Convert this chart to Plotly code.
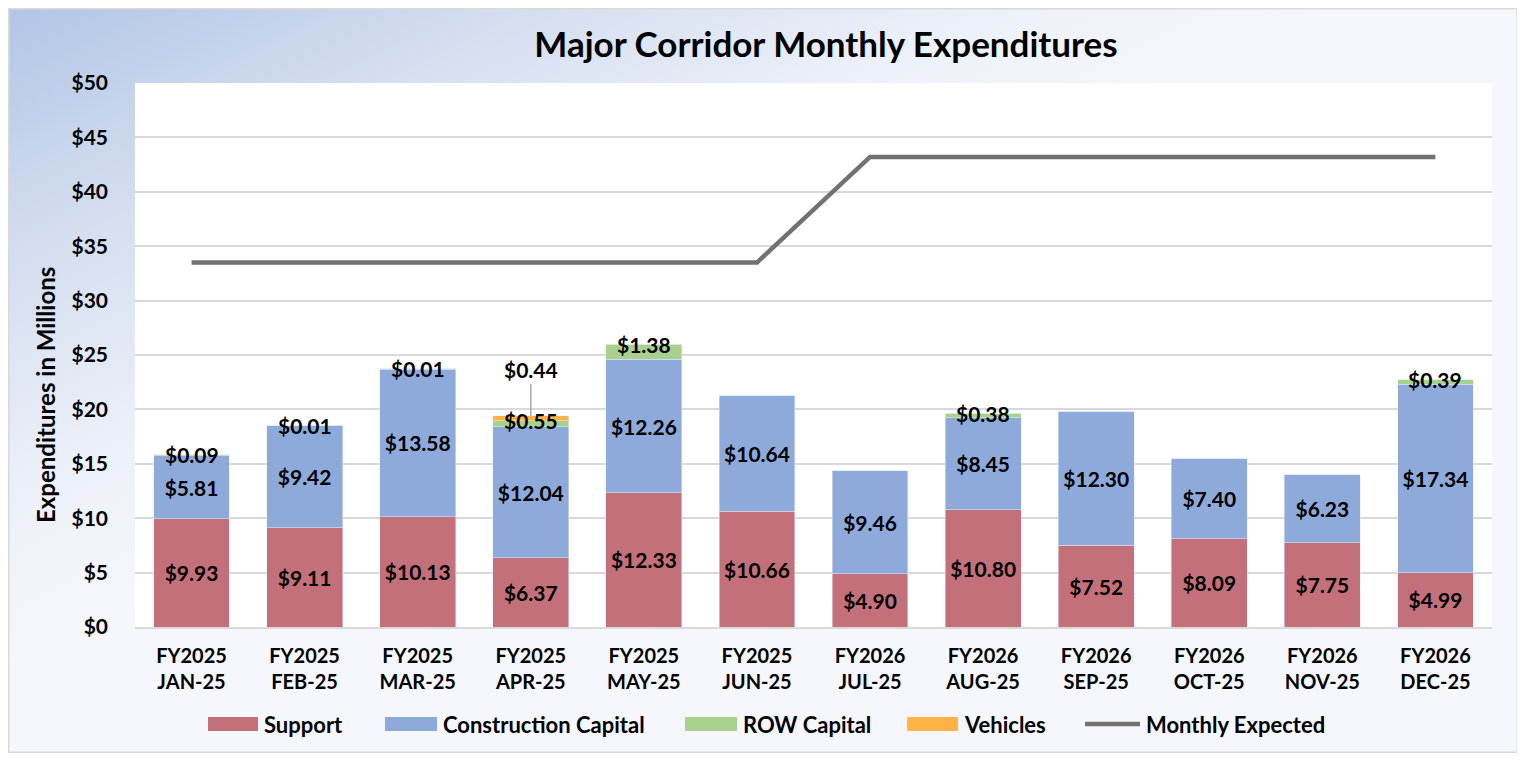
import base64
import plotly.graph_objects as go

# ---------------- data ----------------
fiscal_years = ["FY2025"] * 6 + ["FY2026"] * 6
months = ["JAN-25", "FEB-25", "MAR-25", "APR-25", "MAY-25", "JUN-25",
          "JUL-25", "AUG-25", "SEP-25", "OCT-25", "NOV-25", "DEC-25"]
support = [9.93, 9.11, 10.13, 6.37, 12.33, 10.66, 4.90, 10.80, 7.52, 8.09, 7.75, 4.99]
construction = [5.81, 9.42, 13.58, 12.04, 12.26, 10.64, 9.46, 8.45, 12.30, 7.40, 6.23, 17.34]
row_capital = [0.09, 0.01, 0.01, 0.55, 1.38, 0, 0, 0.38, 0, 0, 0, 0.39]
vehicles = [0, 0, 0, 0.44, 0, 0, 0, 0, 0, 0, 0, 0]
monthly_expected = [33.5, 33.5, 33.5, 33.5, 33.5, 33.5, 43.2, 43.2, 43.2, 43.2, 43.2, 43.2]
y_ticks = list(range(0, 51, 5))
series_names = ["Support", "Construction Capital", "ROW Capital", "Vehicles", "Monthly Expected"]

categories = [f"{fy}<br>{m}" for fy, m in zip(fiscal_years, months)]

# ---------------- style ----------------
# page has an 8px body margin; figure placed at page (8, 8)
OFF = 8
W, H = 1510, 745
PL, PR, PT, PB = 135, 1492, 83, 627          # plot area in page pixels
ML, MT = PL - OFF, PT - OFF
MR, MB = W - (PR - OFF), H - (PB - OFF)
PW, PH = PR - PL, PB - PT
FONT = "Lato"
C_SUP, C_CON, C_ROW, C_VEH, C_LINE = "#c4707a", "#8eaadb", "#a9d18e", "#ffb347", "#727272"
colors = [C_SUP, C_CON, C_ROW, C_VEH, C_LINE]


def px_x(x):  # page px -> paper
    return (x - PL) / PW


def px_y(y):
    return (PB - y) / PH


def money(v):
    return f"${v:.2f}"


def bfont(size):
    return dict(family=FONT, size=size, color="black", weight="bold")


fig = go.Figure()
bar_common = dict(textposition="inside", insidetextanchor="middle", textangle=0,
                  constraintext="none", textfont=bfont(21), hoverinfo="name+y")
fig.add_trace(go.Bar(name=series_names[0], x=categories, y=support, marker_color=C_SUP,
                     text=[money(v) for v in support], **bar_common))
fig.add_trace(go.Bar(name=series_names[1], x=categories, y=construction,
                     marker_color=C_CON, text=[money(v) for v in construction], **bar_common))
fig.add_trace(go.Bar(name=series_names[2], x=categories, y=row_capital, marker_color=C_ROW,
                     hoverinfo="name+y"))
fig.add_trace(go.Bar(name=series_names[3], x=categories, y=vehicles, marker_color=C_VEH,
                     hoverinfo="name+y"))
fig.add_trace(go.Scatter(name=series_names[4], x=categories, y=monthly_expected,
                         mode="lines", line=dict(color=C_LINE, width=4.5)))

# ROW / vehicle labels
for i, c in enumerate(categories):
    base = support[i] + construction[i]
    if row_capital[i] > 0:
        fig.add_annotation(x=c, y=base + row_capital[i], text=money(row_capital[i]),
                           showarrow=False, yanchor="middle", font=bfont(21))
    if vehicles[i] > 0:
        fig.add_annotation(x=c, y=base + row_capital[i] + vehicles[i], text=money(vehicles[i]),
                           showarrow=True, arrowhead=0, arrowwidth=1.5, arrowcolor="#a6a6a6",
                           ax=0, ay=-46, standoff=0, font=bfont(21))

# y-axis title
fig.add_annotation(xref="paper", yref="paper", x=px_x(45), y=px_y(395), xanchor="center",
                   yanchor="middle", text="Expenditures in Millions", textangle=-90,
                   showarrow=False, font=bfont(24))

# custom legend (swatches + real text)
leg_y = 724
sw_left = [208, 385, 685, 907, 1085]
sw_right = [258, 437, 737, 958, 1140]
for name, col, x0, x1 in zip(series_names, colors, sw_left, sw_right):
    if name == "Monthly Expected":
        fig.add_shape(type="line", xref="paper", yref="paper", x0=px_x(x0), x1=px_x(x1),
                      y0=px_y(leg_y), y1=px_y(leg_y), line=dict(color=col, width=4.5))
    else:
        fig.add_shape(type="rect", xref="paper", yref="paper", x0=px_x(x0), x1=px_x(x1),
                      y0=px_y(leg_y - 7), y1=px_y(leg_y + 7), fillcolor=col, line_width=0)
    fig.add_annotation(xref="paper", yref="paper", x=px_x(x1 + 4), y=px_y(leg_y),
                       xanchor="left", yanchor="middle", text=name, showarrow=False,
                       font=bfont(22))

# background (gradient panel + white plot area + border)
svg = f"""<svg xmlns='http://www.w3.org/2000/svg' width='{W}' height='{H}'>
<defs><linearGradient id='g' gradientUnits='userSpaceOnUse' x1='0' y1='0' x2='268' y2='537'>
<stop offset='0' stop-color='#b1c5e6'/><stop offset='0.4' stop-color='#d6dff0'/>
<stop offset='0.75' stop-color='#edf1f9'/><stop offset='1' stop-color='#f5f7fc'/>
</linearGradient></defs>
<rect x='0.75' y='0.75' width='{W-1.5}' height='{H-1.5}' fill='url(#g)' stroke='#d9d9d9' stroke-width='1.5'/>
<rect x='{ML}' y='{MT}' width='{PW}' height='{PH}' fill='white'/>
</svg>"""
src = "data:image/svg+xml;base64," + base64.b64encode(svg.encode()).decode()
fig.add_layout_image(source=src, xref="paper", yref="paper", x=-ML / PW, y=1 + MT / PH,
                     sizex=W / PW, sizey=H / PH, xanchor="left", yanchor="top",
                     sizing="stretch", layer="below")

fig.update_layout(
    width=W, height=H, autosize=False,
    margin=dict(l=ML, r=MR, t=MT, b=MB, pad=0),
    paper_bgcolor="white", plot_bgcolor="rgba(0,0,0,0)",
    barmode="stack", bargap=0.33,
    font=dict(family=FONT, color="black"),
    title=dict(text="<b>Major Corridor Monthly Expenditures</b>", x=px_x(826), xref="paper",
               xanchor="center", y=1 - (45 - OFF) / H, yref="container", yanchor="middle",
               font=dict(family=FONT, size=35, color="black")),
    showlegend=False,
    xaxis=dict(showgrid=False, showline=True, linecolor="#d9d9d9", linewidth=1.5,
               ticks="", tickfont=bfont(20), ticklabelstandoff=10),
    yaxis=dict(range=[0, 50], tickvals=y_ticks, ticktext=[f"${v}" for v in y_ticks],
               showgrid=True, gridcolor="#d9d9d9", gridwidth=1.5, zeroline=False,
               ticks="", ticklabelstandoff=26, tickfont=bfont(21)),
)

fig.write_html("out.html")
